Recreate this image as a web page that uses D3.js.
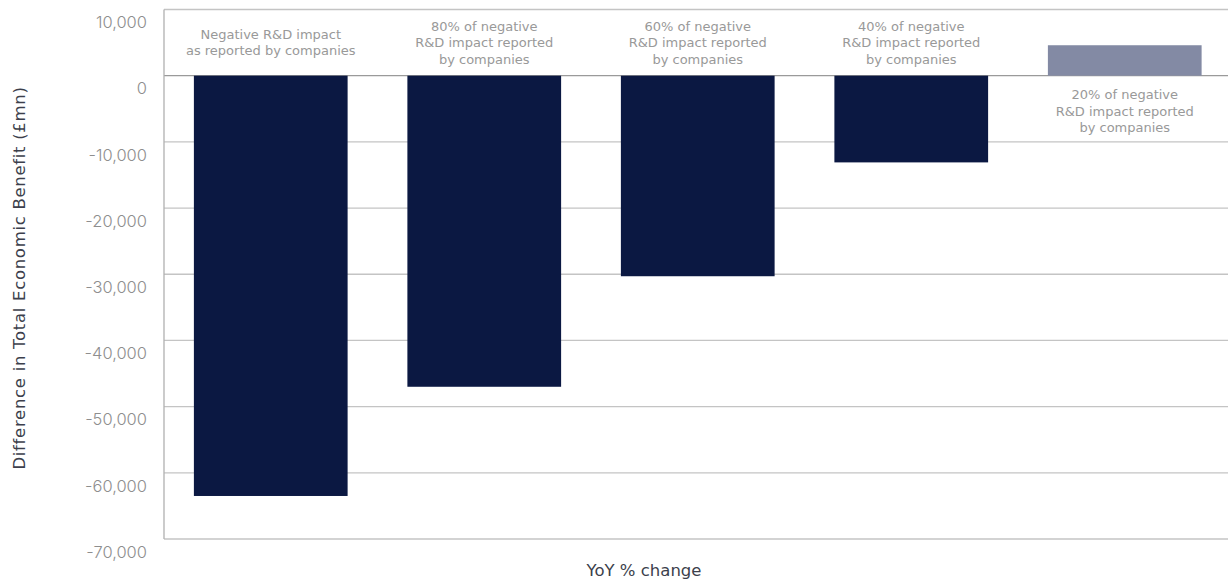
<!DOCTYPE html>
<meta charset="utf-8">
<style type="text/css">
body {
  margin: 0;
  background: #fff;
  font-family: Inter, "Open Sans", sans-serif;
}

.grid line {
  stroke: #c4c4c4;
  stroke-width: 1.3px;
}

.tick-label {
  font-size: 16.5px;
  fill: #8e8e8e;
  font-weight: 300;
}

.cat-label {
  font-family: "DejaVu Sans", sans-serif;
  font-size: 13px;
  fill: #999;
}

.axis-title {
  font-family: "DejaVu Sans", sans-serif;
  font-size: 16.5px;
  fill: #3c3f4c;
}
</style>
<body>
<script src="https://d3js.org/d3.v7.min.js"></script>
<script>
// chart values
var categories = ["neg100", "neg80", "neg60", "neg40", "neg20"];
var catLabels = [
  ["Negative R&D impact", "as reported by companies"],
  ["80% of negative", "R&D impact reported", "by companies"],
  ["60% of negative", "R&D impact reported", "by companies"],
  ["40% of negative", "R&D impact reported", "by companies"],
  ["20% of negative", "R&D impact reported", "by companies"]
];
var values = [-63500, -47000, -30300, -13100, 4600];
var yTicks = [10000, 0, -10000, -20000, -30000, -40000, -50000, -60000, -70000];

var width = 1228, height = 583;
var margin = { top: 9.5, right: 0, bottom: 44, left: 164 };

var svg = d3.select("body")
  .append("svg")
    .attr("width", width)
    .attr("height", height);

var xscale = d3.scaleBand()
  .domain(categories)
  .range([margin.left, margin.left + 5 * 213.5])
  .paddingInner(0.28)
  .paddingOuter(0.14);

var yscale = d3.scaleLinear()
  .domain([-70000, 10000])
  .range([height - margin.bottom, margin.top]);

var fmt = d3.format(",");

// gridlines
var grid = svg.append("g").attr("class", "grid");
grid.selectAll("line")
  .data(yTicks)
  .enter().append("line")
    .attr("x1", margin.left)
    .attr("x2", width)
    .attr("y1", function(d) { return yscale(d); })
    .attr("y2", function(d) { return yscale(d); })
    .style("stroke", function(d) { return d === 0 ? "#9a9a9a" : null; });

// left axis line
svg.append("line")
  .attr("x1", margin.left)
  .attr("x2", margin.left)
  .attr("y1", yscale(10000))
  .attr("y2", yscale(-70000))
  .style("stroke", "#b0b0b0")
  .style("stroke-width", "1.3px");

// tick labels (sit a bit below their lines, as in the original)
svg.selectAll(".tick-label")
  .data(yTicks)
  .enter().append("text")
    .attr("class", "tick-label")
    .attr("x", 147)
    .attr("y", function(d) { return yscale(d) + 13; })
    .attr("dy", "0.35em")
    .attr("text-anchor", "end")
    .text(function(d) { return fmt(d).replace("−", "-"); });

// bars
svg.selectAll(".bar")
  .data(values)
  .enter().append("rect")
    .attr("class", "bar")
    .attr("x", function(d, i) { return xscale(categories[i]); })
    .attr("width", xscale.bandwidth())
    .attr("y", function(d) { return yscale(Math.max(0, d)); })
    .attr("height", function(d) { return Math.abs(yscale(d) - yscale(0)); })
    .style("fill", function(d) { return d < 0 ? "#0b1842" : "#838aa4"; });

// category labels: above the zero line for negative bars, below for positive
var lab = svg.selectAll(".cat-label")
  .data(values)
  .enter().append("text")
    .attr("class", "cat-label")
    .attr("text-anchor", "middle")
    .attr("transform", function(d, i) {
      var n = catLabels[i].length;
      var cy = d < 0 ? 42.5 : 111;
      var top = cy - (n - 1) * 16.5 / 2;
      return "translate(" + (xscale(categories[i]) + xscale.bandwidth() / 2) + "," + top + ")";
    });

lab.selectAll("tspan")
  .data(function(d, i) { return catLabels[i]; })
  .enter().append("tspan")
    .attr("x", 0)
    .attr("y", function(d, j) { return j * 16.5; })
    .attr("dy", "0.35em")
    .text(function(d) { return d; });

// axis titles
svg.append("text")
  .attr("class", "axis-title")
  .attr("text-anchor", "middle")
  .attr("transform", "translate(19," + 278 + ") rotate(-90)")
  .attr("dy", "0.35em")
  .style("letter-spacing", "0.7px")
  .text("Difference in Total Economic Benefit (£mn)");

svg.append("text")
  .attr("class", "axis-title")
  .attr("text-anchor", "middle")
  .attr("x", 644)
  .attr("y", 570)
  .attr("dy", "0.35em")
  .text("YoY % change");
</script>
</body>
